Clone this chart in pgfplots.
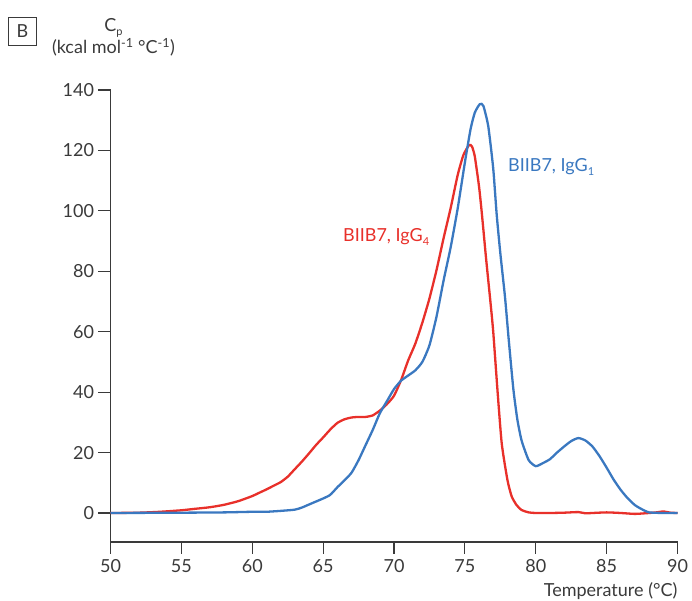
\documentclass[border=0pt]{standalone}
\usepackage{pgfplots}
\pgfplotsset{compat=1.18}
\usepackage{fontspec}
\setmainfont{Lato}
\definecolor{cred}{HTML}{E8302A}
\definecolor{cblue}{HTML}{3A78C0}
\definecolor{txt}{HTML}{3A3A3A}
\begin{document}
\begin{tikzpicture}
\useasboundingbox (-110.5pt,-59pt) rectangle (581.5pt,542pt);
\begin{axis}[
  scale only axis, width=567pt, height=452pt,
  xmin=50, xmax=90, ymin=-9.6, ymax=140,
  axis lines=left, axis line style={-, txt, line width=1.1pt},
  xtick={50,55,...,90}, ytick={0,20,...,140},
  tick style={txt, line width=1.1pt},
  tick align=outside, major tick length=12pt,
  tick label style={font=\fontsize{18}{21}\selectfont, text=txt},
  /pgf/number format/assume math mode=true,
  xticklabel style={yshift=-2pt},
  yticklabel style={xshift=-1pt},
  clip=false,
]
\addplot[cred, line width=2.3pt, smooth, tension=0.35] coordinates {
(50,0) (52,0.1) (53.5,0.4) (55,0.9) (56,1.4) (57,1.9) (58,2.7) (59,3.9)
(60,5.6) (60.5,6.7) (61,7.8) (61.5,9.0) (62,10.2) (62.5,12) (63,14.5)
(63.5,17) (64,19.7) (64.5,22.5) (65,25) (65.5,27.6) (66,29.8) (66.5,31.0)
(67,31.6) (67.5,31.8) (68,31.8) (68.5,32.3) (69,33.9) (69.5,36) (70,38.8)
(70.5,44) (71,50.5) (71.5,56) (72,63) (72.5,71) (73,80.4) (73.5,91)
(74,101) (74.5,112) (74.9,118.5) (75.3,121.8) (75.5,121.3) (75.7,118)
(76,108) (76.2,99) (76.5,84) (76.8,70) (77.0,60) (77.3,40.6) (77.6,23)
(78,11) (78.3,5.5) (78.65,2.6) (79,1.0) (79.5,0.2) (80,0) (81,0) (82,0.1)
(83,0.3) (83.5,-0.1) (84,0) (85,0.2) (86,0) (87,-0.3) (88,0) (88.5,0.2)
(89,0.5) (89.5,0.1) (90,0)
};
\addplot[cblue, line width=2.3pt, smooth, tension=0.35] coordinates {
(50,0) (55,0.1) (58,0.2) (60,0.4) (61,0.4) (62,0.7) (63,1.1) (63.5,1.8)
(64,2.8) (64.5,3.8) (65,4.8) (65.5,6.0) (66,8.5) (66.5,10.8) (67,13.3)
(67.5,17.5) (68,22.5) (68.5,27.5) (69,33) (69.5,37) (70,41) (70.5,43.8)
(71,45.5) (71.5,47.2) (72,50) (72.5,55.5) (73,65) (73.5,77) (74,88)
(74.5,101) (75,116) (75.4,127) (75.7,132.5) (76.05,135.3) (76.3,134.8)
(76.65,128) (77,114) (77.24,99) (77.5,86) (77.83,71.5) (78.1,57)
(78.42,41) (78.7,31) (79,24) (79.5,17.5) (80,15.5) (80.5,16.5) (81,17.8)
(81.5,20) (82,22) (82.5,23.8) (83,24.8) (83.5,24) (84,22) (84.5,18.8)
(85,15) (85.5,11) (86,7.6) (86.5,4.8) (87,2.6) (87.5,1.2) (88,0.2)
(89,0) (90,0)
};
\node[anchor=base west, text=cblue, font=\fontsize{18}{22}\selectfont, inner sep=0pt] at (axis cs:78.04,113) {BIIB7, IgG\raisebox{-4pt}{\fontsize{11}{13}\selectfont 1}};
\node[anchor=base west, text=cred, font=\fontsize{18}{22}\selectfont, inner sep=0pt] at (axis cs:66.4,90) {BIIB7, IgG\raisebox{-4pt}{\fontsize{11}{13}\selectfont 4}};
\end{axis}
\node[draw=txt, line width=0.8pt, minimum size=28pt, inner sep=0pt, text=txt, font=\fontsize{18}{20}\selectfont] at (-88pt,511pt) {B};
\node[align=center, text=txt, font=\fontsize{18}{20}\selectfont, inner sep=0pt] at (3pt,505pt) {C\raisebox{-4pt}{\fontsize{11}{13}\selectfont p}\\(kcal mol\textsuperscript{-1} °C\textsuperscript{-1})};
\node[anchor=base east, text=txt, font=\fontsize{18}{20}\selectfont, inner sep=0pt] at (567pt,-55pt) {Temperature (°C)};
\end{tikzpicture}
\end{document}
